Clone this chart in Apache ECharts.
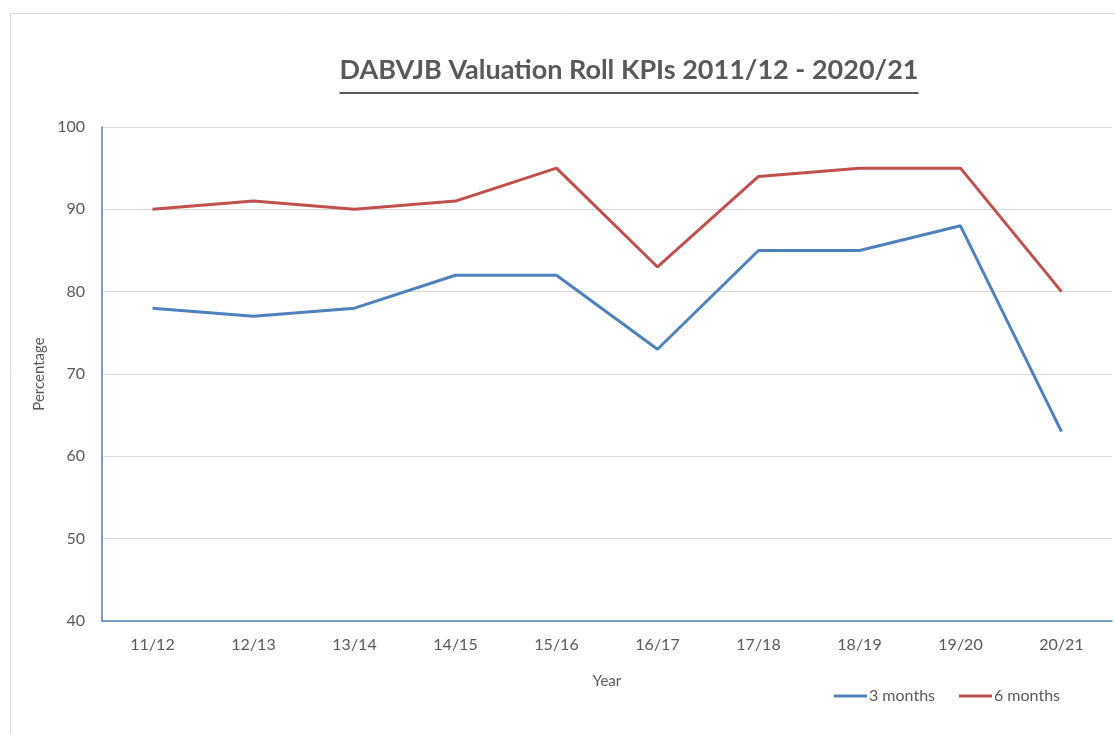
<!DOCTYPE html>
<html>
<head>
<meta charset="utf-8">
<script src="https://cdn.jsdelivr.net/npm/echarts@6/dist/echarts.min.js"></script>
<style>
  html, body { margin: 0; padding: 0; background: #fff; }
  #chart { width: 1115px; height: 734px; }
</style>
</head>
<body>
<div id="chart"></div>
<script>
const years = ['11/12', '12/13', '13/14', '14/15', '15/16', '16/17', '17/18', '18/19', '19/20', '20/21']
const threeMonths = [78, 77, 78, 82, 82, 73, 85, 85, 88, 63]
const sixMonths = [90, 91, 90, 91, 95, 83, 94, 95, 95, 80]

const titleText = 'DABVJB Valuation Roll KPIs 2011/12 - 2020/21'
const font = 'Lato, "Open Sans", sans-serif'
const textColor = '#595959'
const axisBlue = '#4F81BD'

// title width, used for placing it and for the underline
const ctx = document.createElement('canvas').getContext('2d')
ctx.font = 'bold 27px ' + font
const titleW = ctx.measureText(titleText).width
const titleCx = 629

const chart = echarts.init(document.getElementById('chart'))
chart.setOption({
  animation: false,
  textStyle: { fontFamily: font },
  color: ['#4F81BD', '#C0504D'],
  title: {
    text: titleText,
    left: titleCx - titleW / 2,
    top: 57,
    padding: 0,
    textStyle: { fontSize: 27, fontWeight: 'bold', color: textColor, fontFamily: font }
  },
  graphic: [{
    type: 'rect',
    shape: { x: 10.5, y: 13.5, width: 1200, height: 800 },
    style: { fill: 'none', stroke: '#D9D9D9', lineWidth: 1 },
    silent: true
  }, {
    type: 'line',
    shape: { x1: titleCx - titleW / 2, y1: 93, x2: titleCx + titleW / 2, y2: 93 },
    style: { stroke: textColor, lineWidth: 2 },
    silent: true
  }],
  grid: { left: 102, right: 3, top: 127, bottom: 113 },
  legend: {
    right: 50,
    top: 683,
    icon: 'rect',
    itemWidth: 33,
    itemHeight: 3,
    itemGap: 24,
    textStyle: { fontSize: 16, color: textColor, padding: [0, 0, 0, -3] },
    data: ['3 months', '6 months']
  },
  xAxis: {
    type: 'category',
    data: years,
    name: 'Year',
    nameLocation: 'middle',
    nameGap: 53,
    nameTextStyle: { fontSize: 15, color: textColor },
    axisLine: { lineStyle: { color: axisBlue, width: 1.5 } },
    axisTick: { show: false },
    axisLabel: { fontSize: 16, color: textColor, margin: 16 }
  },
  yAxis: {
    type: 'value',
    min: 40,
    max: 100,
    interval: 10,
    name: 'Percentage',
    nameLocation: 'middle',
    nameGap: 52,
    nameTextStyle: { fontSize: 15, color: textColor },
    axisLine: { show: true, lineStyle: { color: axisBlue, width: 1.5 } },
    axisTick: { show: false },
    axisLabel: { fontSize: 16, color: textColor, margin: 17 },
    splitLine: { lineStyle: { color: '#D9D9D9', width: 1 } }
  },
  series: [{
    name: '3 months',
    type: 'line',
    data: threeMonths,
    symbol: 'none',
    lineStyle: { width: 3 }
  }, {
    name: '6 months',
    type: 'line',
    data: sixMonths,
    symbol: 'none',
    lineStyle: { width: 3 }
  }]
})
</script>
</body>
</html>
